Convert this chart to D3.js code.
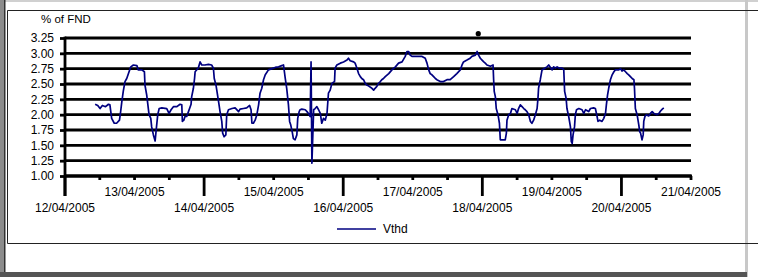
<!DOCTYPE html>
<html>
<head>
<meta charset="utf-8">
<script src="https://cdn.jsdelivr.net/npm/d3@7"></script>
<style>
body { margin: 0; background: #fff; }
svg { display: block; font-family: "Liberation Sans", Arial, sans-serif; }
</style>
</head>
<body>
<script>
// Vthd readings, hours counted from 12/04/2005 00:00
let hours = [10.4, 11.3, 12.1, 12.9, 14.0, 15.0, 15.5, 16.1, 17.0, 17.8, 18.8, 19.2, 19.6, 20.1, 20.7, 21.3, 21.9, 22.7, 23.6, 24.8,
  25.3, 26.5, 27.4, 27.6, 28.2, 29.0, 29.6, 29.9, 30.5, 31.1, 31.4, 32.0, 32.5, 33.4, 35.1, 35.9, 36.6, 37.4, 38.6, 39.7,
  40.3, 40.5, 41.0, 41.4, 42.0, 42.6, 43.5, 43.7, 44.3, 44.7,
  44.9, 46.0, 46.6, 47.2, 48.3, 49.5, 50.6, 51.2, 51.5, 52.1, 53.0, 53.5, 54.1, 54.4, 54.9, 55.5, 55.8, 56.4, 57.6, 58.7,
  59.9, 60.4, 61.6, 62.7, 63.7, 64.2, 64.5, 65.0, 65.6, 66.2, 66.8, 67.3, 67.9, 68.5, 69.1, 70.2, 71.4, 72.5, 73.7, 74.8,
  75.4, 76.0, 76.5, 77.1, 77.5, 77.9, 78.4, 78.8, 79.4, 80.0, 80.3, 80.8, 81.1,
  81.7, 82.9, 83.5, 84.0, 84.6, 84.9, 85.2, 85.8, 86.3, 86.9, 87.5, 88.1, 88.6, 89.2, 89.8, 90.4, 90.9, 91.5, 92.1, 93.0,
  93.2, 93.8, 95.0, 96.1, 97.3, 97.8, 98.4, 99.6, 100.1, 100.7, 101.3, 101.9, 102.4, 103.0, 103.6, 104.2, 104.7, 105.9, 106.5, 107.0,
  107.6, 108.2, 108.8, 109.3, 109.9, 110.5, 111.7, 112.8, 114.0, 115.1, 116.3, 117.4,
  118.0, 118.6, 119.1, 119.7, 120.9, 122.0, 123.2, 124.3, 124.9, 125.5, 126.0, 126.6, 127.2, 127.8, 128.3, 129.5, 130.6, 131.8, 132.9, 134.1,
  135.2, 136.4, 137.0, 137.5, 138.7, 139.8, 140.4, 141.6, 142.2, 142.7, 143.3, 143.9, 144.5, 145.0, 145.6, 146.8, 147.7, 147.9, 148.1, 148.5,
  148.8, 149.4, 149.9, 150.2, 151.9, 152.3, 152.5, 153.1, 153.7,
  154.2, 155.4, 156.0, 156.5, 157.1, 157.7, 158.3, 158.8, 159.4, 160.0, 160.6, 161.1, 161.7, 162.3, 162.9, 163.2, 163.4, 164.0, 164.6, 165.7,
  166.3, 166.9, 167.5, 168.1, 168.6, 169.2, 169.8, 170.4, 171.5, 172.1, 172.4, 172.9, 173.2, 173.8, 174.4, 174.7, 175.0, 175.3, 175.8, 176.1,
  176.5, 177.3, 178.4, 179.0, 179.6, 180.7, 181.3, 182.4, 183.0, 183.6, 183.9, 184.5, 185.3, 185.9, 186.5, 186.8, 187.2, 187.6, 188.2, 188.8,
  189.4, 189.9,
  191.1, 191.7, 192.2, 192.8, 193.4, 194.0, 194.5, 195.1, 195.7, 196.3, 196.5, 196.8, 197.4, 198.0, 198.3, 198.6, 199.1, 199.5, 199.7, 200.1,
  200.6, 201.4, 202.0, 202.6, 203.2, 203.7, 204.3, 204.9, 205.5, 206.1, 206.6]
let vthd = [2.17, 2.15, 2.10, 2.15, 2.13, 2.17, 2.16, 1.94, 1.86, 1.86, 1.91, 2.05, 2.21, 2.38, 2.54, 2.59, 2.67, 2.78, 2.81, 2.80,
  2.73, 2.73, 2.70, 2.48, 2.32, 2.00, 1.94, 1.80, 1.67, 1.57, 1.72, 2.00, 2.10, 2.11, 2.10, 2.02, 2.08, 2.13, 2.13, 2.17,
  2.16, 1.89, 1.91, 1.97, 1.97, 2.05, 2.17, 2.29, 2.43, 2.59,
  2.70, 2.76, 2.86, 2.81, 2.81, 2.82, 2.81, 2.76, 2.59, 2.48, 2.21, 2.05, 1.89, 1.70, 1.64, 1.67, 2.00, 2.08, 2.10, 2.11,
  2.05, 2.09, 2.10, 2.11, 2.15, 2.08, 1.86, 1.86, 1.91, 2.00, 2.16, 2.35, 2.43, 2.57, 2.65, 2.73, 2.75, 2.77, 2.78, 2.80,
  2.81, 2.59, 2.43, 2.16, 1.89, 1.83, 1.72, 1.61, 1.59, 1.67, 1.94, 2.05, 2.08,
  2.09, 2.08, 2.05, 2.02, 1.97, 2.86, 1.21, 2.08, 2.10, 2.13, 2.08, 2.02, 1.86, 1.94, 1.91, 2.02, 2.35, 2.40, 2.51, 2.54,
  2.76, 2.81, 2.84, 2.86, 2.89, 2.92, 2.88, 2.86, 2.84, 2.76, 2.67, 2.62, 2.59, 2.57, 2.51, 2.48, 2.47, 2.43, 2.40, 2.43,
  2.46, 2.51, 2.54, 2.57, 2.59, 2.62, 2.67, 2.73, 2.78, 2.84, 2.86, 2.95,
  3.03, 3.03, 2.97, 2.95, 2.95, 2.95, 2.95, 2.92, 2.84, 2.73, 2.67, 2.65, 2.62, 2.59, 2.57, 2.54, 2.54, 2.57, 2.57, 2.62,
  2.67, 2.73, 2.81, 2.86, 2.89, 2.92, 2.95, 2.97, 3.03, 2.97, 2.92, 2.89, 2.86, 2.84, 2.81, 2.79, 2.81, 2.57, 2.38, 2.29,
  2.10, 2.00, 1.86, 1.59, 1.59, 1.70, 1.91, 2.00, 2.02,
  2.10, 2.08, 2.02, 2.10, 2.16, 2.13, 2.10, 2.08, 2.05, 2.00, 1.89, 1.86, 1.91, 2.00, 2.10, 2.27, 2.43, 2.57, 2.73, 2.76,
  2.78, 2.81, 2.77, 2.73, 2.78, 2.76, 2.78, 2.76, 2.76, 2.73, 2.38, 2.27, 2.10, 1.97, 1.80, 1.56, 1.53, 1.67, 1.80, 2.00,
  2.08, 2.10, 2.08, 2.02, 2.08, 2.05, 2.10, 2.11, 2.10, 1.97, 1.89, 1.91, 1.89, 1.94, 2.02, 2.16, 2.32, 2.43, 2.57, 2.65,
  2.70, 2.73,
  2.73, 2.75, 2.71, 2.73, 2.70, 2.67, 2.65, 2.62, 2.59, 2.57, 2.43, 2.10, 2.00, 1.83, 1.72, 1.70, 1.59, 1.67, 1.89, 1.97,
  2.00, 1.98, 2.02, 2.05, 2.02, 2.01, 2.00, 2.02, 2.06, 2.09, 2.11]

// the lone black point above the 18/04 peak
let dotHours = [142.6]
let dotValues = [3.32]

let dayLabels = ["12/04/2005", "13/04/2005", "14/04/2005", "15/04/2005", "16/04/2005",
  "17/04/2005", "18/04/2005", "19/04/2005", "20/04/2005", "21/04/2005"]
let yTicks = [1.00, 1.25, 1.50, 1.75, 2.00, 2.25, 2.50, 2.75, 3.00, 3.25]
let seriesName = "Vthd"
let yTitle = "% of FND"

let parseDay = d3.timeParse("%d/%m/%Y")
let days = dayLabels.map(parseDay)
let start = days[0]
let atHour = h => new Date(+start + h * 3600e3)

let data = hours.map((h, i) => ({ t: atHour(h), v: vthd[i] }))
let dots = dotHours.map((h, i) => ({ t: atHour(h), v: dotValues[i] }))

let W = 758, H = 277
let navy = '#000080'

let svg = d3.select('body').append('svg')
  .attr("width", W)
  .attr("height", H)

// window frame
svg.append('rect').attr('width', W).attr('height', H).attr('fill', '#fff')
svg.append('rect').attr('x', 0).attr('y', 0).attr('width', W).attr('height', 2).attr('fill', '#d0d0d0')
svg.append('rect').attr('x', 0).attr('y', 0).attr('width', 5).attr('height', H).attr('fill', '#8c8c8c')
svg.append('rect').attr('x', 4).attr('y', 0).attr('width', 1.5).attr('height', H).attr('fill', '#333')
svg.append('rect').attr('x', 745).attr('y', 0).attr('width', 3).attr('height', H).attr('fill', '#c8c8c8')
svg.append('rect').attr('x', 0).attr('y', 272).attr('width', 747).attr('height', 5).attr('fill', '#555')

// chart area border (runs off the right edge)
svg.append('path')
  .attr('d', 'M' + (W + 2) + ',10.5H7.5V243.5H' + (W + 2))
  .attr('fill', 'none')
  .attr('stroke', '#222')
  .attr('stroke-width', 1)

let x = d3.scaleTime()
  .domain([days[0], days[days.length - 1]])
  .range([65, 691])

let y = d3.scaleLinear()
  .domain([1, 3.25])
  .range([176, 38])

// gridlines
svg.append('g')
  .selectAll('line')
  .data(yTicks)
  .enter()
  .append('line')
    .attr('x1', x.range()[0])
    .attr('x2', x.range()[1])
    .attr('y1', d => y(d))
    .attr('y2', d => y(d))
    .attr('stroke', '#000')
    .attr('stroke-width', 2.8)

// y axis
let yAxis = svg.append('g')
  .attr('transform', 'translate(65,0)')
  .call(d3.axisLeft(y).tickValues(yTicks).tickSize(5).tickPadding(6).tickFormat(d3.format('.2f')))
yAxis.select('.domain').remove()
yAxis.selectAll('.tick line').attr('stroke', '#000').attr('stroke-width', 2.8)
yAxis.selectAll('.tick text').attr('font-size', 12).attr('fill', '#000')
yAxis.append('line')
  .attr('y1', y(3.25) - 1.4)
  .attr('y2', y(1) + 20)
  .attr('stroke', '#000')
  .attr('stroke-width', 2.8)

svg.append('text')
  .attr('x', 41)
  .attr('y', 23)
  .attr('font-size', 11.5)
  .attr('fill', '#000')
  .text(yTitle)

// x axis: half-day minor ticks, long ticks every other day, staggered day labels
let xAxis = svg.append('g')
xAxis.append('line')
  .attr('x1', x.range()[0])
  .attr('x2', x.range()[1] + 1)
  .attr('y1', y(1))
  .attr('y2', y(1))
  .attr('stroke', '#000')
  .attr('stroke-width', 2.8)

let halfDays = d3.timeHour.every(12).range(days[0], +days[days.length - 1] + 1)
xAxis.selectAll('line.minor')
  .data(halfDays)
  .enter()
  .append('line')
    .attr('class', 'minor')
    .attr('x1', d => x(d))
    .attr('x2', d => x(d))
    .attr('y1', y(1))
    .attr('y2', d => (d3.timeDay.count(start, d) % 2 === 0 && d.getHours() === 0 && +d !== +days[days.length - 1]) ? y(1) + 20 : y(1) + 4)
    .attr('stroke', '#000')
    .attr('stroke-width', 2.8)

xAxis.selectAll('text')
  .data(days)
  .enter()
  .append('text')
    .attr('x', d => x(d))
    .attr('y', (d, i) => i % 2 === 0 ? 212 : 196)
    .attr('text-anchor', 'middle')
    .attr('font-size', 12)
    .attr('fill', '#000')
    .text((d, i) => dayLabels[i])

// series
let line = d3.line()
  .x(d => x(d.t))
  .y(d => y(d.v))

svg.append('path')
  .datum(data)
  .attr('d', line)
  .attr('fill', 'none')
  .attr('stroke', navy)
  .attr('stroke-width', 1.7)
  .attr('stroke-linejoin', 'round')

svg.selectAll('circle.dot')
  .data(dots)
  .enter()
  .append('circle')
    .attr('class', 'dot')
    .attr('cx', d => x(d.t))
    .attr('cy', d => y(d.v))
    .attr('r', 2.6)
    .attr('fill', '#000')

// legend
let legend = svg.append('g').attr('transform', 'translate(337,229)')
legend.append('line')
  .attr('x1', 0)
  .attr('x2', 39)
  .attr('stroke', navy)
  .attr('stroke-width', 1.7)
legend.append('text')
  .attr('x', 46)
  .attr('y', 4)
  .attr('font-size', 12)
  .attr('fill', '#000')
  .text(seriesName)
</script>
</body>
</html>
